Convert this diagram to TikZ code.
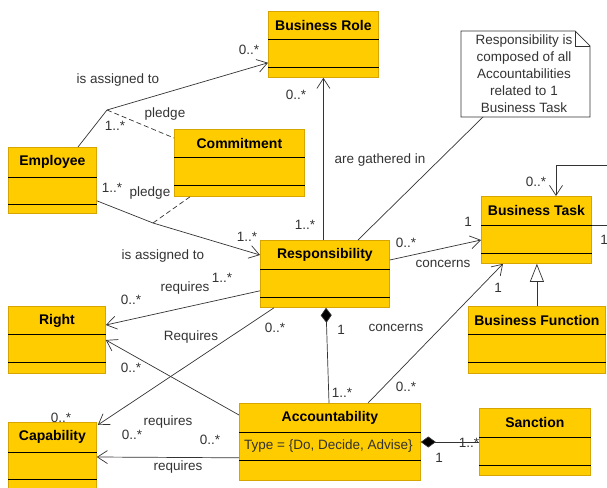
\documentclass[tikz,border=0pt]{standalone}
\usepackage{fontspec}
\setmainfont{Liberation Sans}
\usetikzlibrary{arrows.meta,calc}

\definecolor{umlfill}{RGB}{255,204,0}
\definecolor{umledge}{RGB}{214,165,0}
\definecolor{umlline}{RGB}{51,51,51}

% name, top left, width, height, first divider, second divider, title
\newcommand{\umlclass}[7]{%
  \node[classbox, minimum width=#3, minimum height=#4, anchor=north west] (#1) at (#2) {};
  \node[classname] (#1-name) at ([yshift=-14.5pt]#1.north) {#7};
  \draw[divider] ([yshift=-#5pt]#1.north west) -- ([yshift=-#5pt]#1.north east);
  \draw[divider] ([yshift=-#6pt]#1.north west) -- ([yshift=-#6pt]#1.north east);
}

\begin{document}
\begin{tikzpicture}[x=1pt,y=-1pt,
    classbox/.style={draw=umledge, fill=umlfill, line width=0.8pt, inner sep=0pt},
    classname/.style={font=\fontsize{14}{16}\bfseries\selectfont, inner sep=0pt},
    divider/.style={draw=black, line width=0.8pt},
    lbl/.style={font=\fontsize{13.5}{15}\selectfont, text=umlline, inner sep=0pt},
    plain/.style={draw=umlline, line width=0.7pt},
    assoc/.style={plain, -{Straight Barb[length=10pt,width=13pt]}},
    pledgeline/.style={plain, dash pattern=on 5pt off 3pt},
    compo/.style={plain, {Diamond[length=15pt,width=11pt,fill=black]}-},
    gen/.style={plain, -{Triangle[open,length=18pt,width=14pt,fill=white]}}]
  \useasboundingbox (0,0) rectangle (607,487);
  \clip (0,0) rectangle (607,487);

  \umlclass{role}{268,11}{110}{66}{28}{56}{Business Role}
  \umlclass{emp}{8,147}{88}{66}{30}{57}{Employee}
  \umlclass{com}{174,129}{130}{67}{28}{56}{Commitment}
  \umlclass{bt}{481,196}{110}{67}{29}{57}{Business Task}
  \umlclass{resp}{260,240}{129}{67}{29}{57}{Responsibility}
  \umlclass{right}{8,306}{97}{67}{28}{56}{Right}
  \umlclass{cap}{8,422}{88}{66}{30}{57}{Capability}
  \umlclass{acc}{239,403}{181}{77}{29}{57}{Accountability}
  \umlclass{bf}{468,306}{137}{67}{28}{56}{Business Function}
  \umlclass{san}{479,408}{111}{67}{29}{57}{Sanction}
  \node[lbl, anchor=west] (acc-attr) at ($(acc.north west)+(5,43)$) {Type = \{Do, Decide, Advise\}};

  % note
  \draw[plain, fill=white] (461,31) -- (575,31) -- (590,46) -- (590,117) -- (461,117) -- cycle;
  \draw[plain] (575,31) |- (590,46);
  \node[lbl, align=center, font=\fontsize{13.5}{17}\selectfont] (note) at (524,74)
    {Responsibility is\\composed of all\\Accountabilities\\related to 1\\Business Task};
  \coordinate (noteFoot) at (483,117);

  % bends
  \coordinate (bendA) at (107,110);
  \coordinate (bendB) at (153,223);
  \coordinate (loopR) at (625,165);

  \draw[assoc] ($(emp.north west)+(70,0)$) -- (bendA) -- ($(role.south west)+(0,-15)$);
  \draw[pledgeline] (bendA) -- ($(com.north west)+(0,9)$);
  \draw[assoc] ($(emp.south east)+(0,-13)$) -- (bendB) -- ($(resp.north west)+(0,15)$);
  \draw[pledgeline] ($(com.south west)+(16,0)$) -- (bendB);
  \draw[assoc] (resp.north -| role.south) -- (role.south);
  \draw[plain] (noteFoot) -- ($(resp.north west)+(98,0)$);
  \draw[assoc] ($(resp.north east)+(0,20)$) -- ($(bt.north west)+(0,44)$);
  \draw[assoc] ($(bt.north east)+(0,29)$) -| (loopR) -| ($(bt.north west)+(75,0)$);
  \draw[gen] (bf.north) -- (bf.north |- bt.south);
  \draw[assoc] ($(acc.north west)+(129,0)$) -- ($(bt.south west)+(22,0)$);
  \draw[compo] ($(resp.south west)+(66,0)$) -- ($(acc.north west)+(90,0)$);
  \draw[assoc] ($(resp.south west)+(0,-17)$) -- ($(right.north east)+(0,19)$);
  \draw[assoc] ($(acc.north west)+(0,12)$) -- ($(right.north east)+(0,34)$);
  \draw[assoc] ($(resp.south west)+(14,0)$) -- ($(cap.north east)+(1,3)$);
  \draw[assoc] ($(acc.south west)+(0,-23)$) -- ($(cap.north east)+(0,35)$);
  \draw[compo] ($(acc.north east)+(0,39)$) -- ($(san.north west)+(0,34)$);

  % labels
  \node[lbl] (l-er-name) at (118,80) {is assigned to};
  \node[lbl] (l-er-role) at (249,50) {0..*};
  \node[lbl] (l-pa-name) at (165,114) {pledge};
  \node[lbl] (l-pa-emp) at (115,126) {1..*};
  \node[lbl] (l-pb-emp) at (112,188) {1..*};
  \node[lbl] (l-pb-name) at (150,193) {pledge};
  \node[lbl] (l-ep-resp) at (247,237) {1..*};
  \node[lbl] (l-ep-name) at (163,256) {is assigned to};
  \node[lbl] (l-rr-role) at (296,95) {0..*};
  \node[lbl] (l-rr-resp) at (305,225) {1..*};
  \node[lbl] (l-rr-name) at (380,160) {are gathered in};
  \node[lbl] (l-rt-resp) at (406,243) {0..*};
  \node[lbl] (l-rt-name) at (443,264) {concerns};
  \node[lbl] (l-rt-bt) at (468,222) {1};
  \node[lbl] (l-loop-top) at (536,182) {0..*};
  \node[lbl] (l-loop-side) at (604,240) {1};
  \node[lbl] (l-at-bt) at (498,288) {1};
  \node[lbl] (l-at-name) at (396,328) {concerns};
  \node[lbl] (l-at-acc) at (406,387) {0..*};
  \node[lbl] (l-ra-resp) at (341,330) {1};
  \node[lbl] (l-ra-acc) at (342,393) {1..*};
  \node[lbl] (l-rg-name) at (185,288) {requires};
  \node[lbl] (l-rg-resp) at (222,278) {1..*};
  \node[lbl] (l-rg-right) at (131,300) {0..*};
  \node[lbl] (l-ag-name) at (191,337) {Requires};
  \node[lbl] (l-ag-right) at (131,368) {0..*};
  \node[lbl] (l-rc-resp) at (275,328) {0..*};
  \node[lbl] (l-rc-cap) at (61,418) {0..*};
  \node[lbl] (l-rc-name) at (168,422) {requires};
  \node[lbl] (l-ac-cap) at (132,435) {0..*};
  \node[lbl] (l-ac-acc) at (210,440) {0..*};
  \node[lbl] (l-ac-name) at (178,467) {requires};
  \node[lbl] (l-as-acc) at (439,458) {1};
  \node[lbl] (l-as-san) at (469,443) {1..*};
\end{tikzpicture}
\end{document}
